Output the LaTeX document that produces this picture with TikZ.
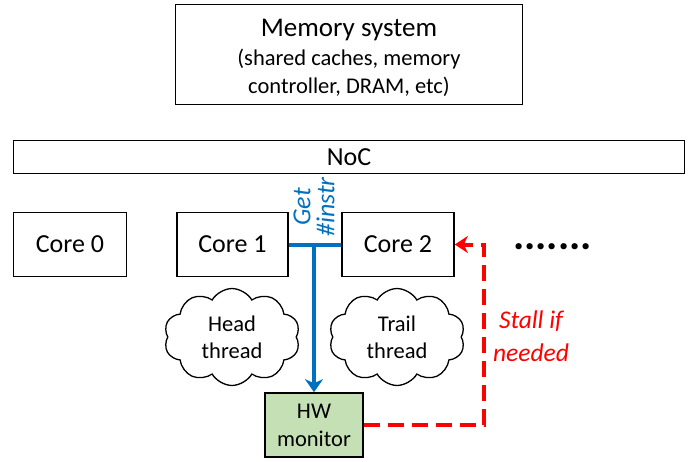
\documentclass[tikz,border=0pt]{standalone}
\usepackage{fontspec}
\setmainfont{Carlito}
\usetikzlibrary{shapes.symbols,arrows.meta}
\definecolor{myblue}{HTML}{0070C0}
\definecolor{myred}{HTML}{FF0000}
\definecolor{mygreen}{HTML}{C5E0B4}
\begin{document}
\begin{tikzpicture}[x=1pt,y=-1pt,
  box/.style={draw=black,line width=1.6pt,inner sep=0pt,align=center},
  bigtxt/.style={font=\fontsize{26}{31}\selectfont},
  midtxt/.style={font=\fontsize{22.5}{28}\selectfont},
  thread/.style={cloud,draw=black,line width=1.3pt,cloud puffs=10,cloud puff arc=120,
    minimum width=136pt,minimum height=80pt,inner sep=0pt,align=center,
    font=\fontsize{22.5}{27}\selectfont},
  blueline/.style={draw=myblue,line width=4pt},
  bluearrow/.style={draw=myblue,line width=4pt,-{Stealth[length=13pt,width=18pt,inset=4pt]}},
  reddash/.style={draw=myred,line width=4pt,dash pattern=on 16pt off 8pt,
    -{Stealth[length=13pt,width=17pt,inset=4pt]}}
]
\useasboundingbox (0,0) rectangle (695,461);

\node[box,minimum width=347pt,minimum height=100pt] (mem) at (349,54.5) {};
\node[midtxt,align=center,inner sep=0pt] (memtxt) at (349,57.5)
  {{\fontsize{27}{31}\selectfont Memory system}\\[1pt]
   (shared caches, memory\\
   controller, DRAM, etc)};

\node[box,bigtxt,minimum width=671pt,minimum height=33pt] (noc) at (349,157) {NoC};

\node[box,bigtxt,minimum width=113pt,minimum height=64pt] (core0) at (70,244.5) {Core 0};
\node[box,bigtxt,minimum width=111pt,minimum height=64pt] (core1) at (232.5,244.5) {Core 1};
\node[box,bigtxt,minimum width=112pt,minimum height=64pt] (core2) at (398,244.5) {Core 2};

\node[anchor=base,font=\fontsize{42}{42}\selectfont\bfseries] (dots) at (552.5,249) {.......};

\node[thread] (head) at (232,337) {Head\\thread};
\node[thread] (trail) at (397,337) {Trail\\thread};

\node[box,midtxt,fill=mygreen,minimum width=98pt,minimum height=64pt] (hw) at (314,425) {HW\\monitor};

\coordinate (j) at (314,245);
\draw[blueline] (core1.east) -- (core2.west);
\draw[bluearrow] (j) -- (hw.north);

\node[rotate=90,text=myblue,align=center,font=\fontsize{26}{24}\selectfont\itshape] (get) at (314,207) {Get\\\#instr};

\coordinate (c1) at (484,425);
\coordinate (c2) at (484,244.5);
\draw[reddash] (hw.east) -- (c1) -- (c2) -- (core2.east);

\node[text=myred,align=center,font=\fontsize{25.5}{33}\selectfont\itshape] (stall) at (531,336) {Stall if\\needed};
\end{tikzpicture}
\end{document}
